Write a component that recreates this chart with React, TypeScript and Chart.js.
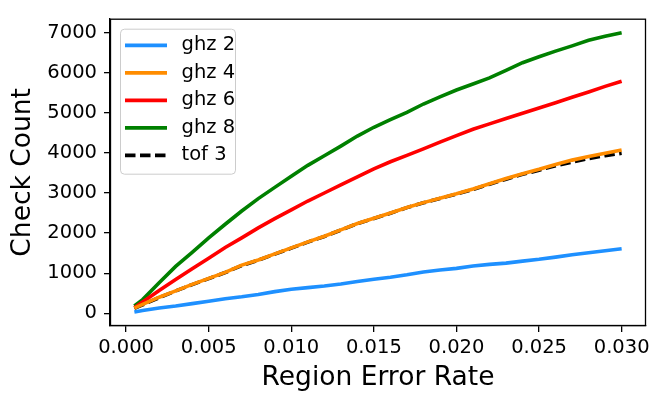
import { useEffect, useRef } from "react";
import { Chart, registerables } from "chart.js";

Chart.register(...registerables);

const errorRates = [
  0.0005, 0.001, 0.002, 0.003, 0.004, 0.005, 0.006, 0.007, 0.008, 0.009, 0.01,
  0.011, 0.012, 0.013, 0.014, 0.015, 0.016, 0.017, 0.018, 0.019, 0.02, 0.021,
  0.022, 0.023, 0.024, 0.025, 0.026, 0.027, 0.028, 0.029, 0.03,
];
const ghz2 = [
  30, 70, 130, 180, 240, 300, 360, 410, 470, 540, 600, 640, 680, 730, 790, 850,
  900, 960, 1030, 1080, 1120, 1180, 1220, 1250, 1300, 1345, 1400, 1460, 1510,
  1560, 1609,
];
const ghz4 = [
  130, 220, 400, 560, 720, 870, 1020, 1200, 1330, 1480, 1630, 1780, 1920, 2080,
  2240, 2370, 2500, 2640, 2760, 2870, 2980, 3100, 3230, 3360, 3480, 3590, 3710,
  3820, 3910, 3990, 4070,
];
const ghz6 = [
  140, 280, 570, 840, 1110, 1370, 1640, 1880, 2130, 2360, 2580, 2800, 3000,
  3200, 3400, 3600, 3780, 3940, 4100, 4270, 4430, 4590, 4725, 4860, 4990, 5120,
  5250, 5390, 5520, 5660, 5789,
];
const ghz8 = [
  180, 340, 760, 1170, 1520, 1880, 2220, 2550, 2860, 3140, 3420, 3690, 3930,
  4170, 4420, 4640, 4830, 5010, 5220, 5400, 5570, 5720, 5870, 6060, 6250, 6400,
  6540, 6670, 6810, 6910, 7000,
];
const tof3 = [
  120, 210, 390, 555, 715, 865, 1015, 1190, 1325, 1475, 1625, 1775, 1915, 2075,
  2235, 2365, 2495, 2635, 2755, 2865, 2975, 3090, 3220, 3345, 3465, 3570, 3680,
  3770, 3860, 3930, 3990,
];
const seriesLabels = ["ghz 2", "ghz 4", "ghz 6", "ghz 8", "tof 3"];
const seriesColors = ["#1e90ff", "#ff8c00", "#ff0000", "#008000", "#000000"];
const xTickValues = [0, 0.005, 0.01, 0.015, 0.02, 0.025, 0.03];
const xTickLabels = ["0.000", "0.005", "0.010", "0.015", "0.020", "0.025", "0.030"];
const yTickValues = [0, 1000, 2000, 3000, 4000, 5000, 6000, 7000];
const yTickLabels = ["0", "1000", "2000", "3000", "4000", "5000", "6000", "7000"];

const FONT = "'DejaVu Sans', sans-serif";

const framePlugin = {
  id: "frameAndLegend",
  afterDraw(chart: any) {
    const ctx = chart.ctx as CanvasRenderingContext2D;
    const a = chart.chartArea;
    ctx.save();
    ctx.strokeStyle = "#000";
    ctx.lineWidth = 1.3;
    ctx.strokeRect(a.left + 0.5, a.top + 0.5, a.right - a.left - 1, a.bottom - a.top - 1);

    // legend
    const bx = a.left + 10.5;
    const by = a.top + 10.5;
    const bw = 115;
    const bh = 145;
    ctx.beginPath();
    (ctx as any).roundRect(bx, by, bw, bh, 4);
    ctx.fillStyle = "rgba(255,255,255,0.8)";
    ctx.fill();
    ctx.strokeStyle = "#cccccc";
    ctx.lineWidth = 1;
    ctx.stroke();

    chart.data.datasets.forEach((ds: any, i: number) => {
      const cy = a.top + 26.7 + i * 27.5;
      ctx.beginPath();
      ctx.strokeStyle = ds.borderColor;
      ctx.lineWidth = ds.borderWidth;
      ctx.setLineDash(ds.borderDash || []);
      ctx.moveTo(a.left + 15, cy);
      ctx.lineTo(a.left + 57, cy);
      ctx.stroke();
      ctx.setLineDash([]);
      ctx.fillStyle = "#000";
      ctx.font = `19.5px ${FONT}`;
      ctx.textBaseline = "middle";
      ctx.textAlign = "left";
      ctx.fillText(ds.label, a.left + 71.5, cy);
    });
    ctx.restore();
  },
};

export default function App() {
  const canvasRef = useRef<HTMLCanvasElement | null>(null);

  useEffect(() => {
    if (!canvasRef.current) return;
    const all = [ghz2, ghz4, ghz6, ghz8, tof3];
    const chart = new Chart(canvasRef.current, {
      type: "line",
      data: {
        datasets: all.map((vals, i) => ({
          label: seriesLabels[i],
          data: vals.map((v, j) => ({ x: errorRates[j], y: v })),
          borderColor: seriesColors[i],
          backgroundColor: seriesColors[i],
          borderWidth: 3.6,
          borderDash: i === 4 ? [10.5, 4.5] : [],
          pointRadius: 0,
          tension: 0,
          fill: false,
        })),
      },
      options: {
        animation: false,
        responsive: false,
        devicePixelRatio: 1,
        layout: { padding: { top: 6, right: 21, left: 0, bottom: 0 } },
        plugins: {
          legend: { display: false },
          tooltip: { enabled: false },
        },
        scales: {
          x: {
            type: "linear",
            min: -0.000975,
            max: 0.031475,
            afterBuildTicks: (scale: any) => {
              scale.ticks = xTickValues.map((v) => ({ value: v }));
            },
            afterFit: (scale: any) => {
              scale.height = 68;
            },
            ticks: {
              callback: (_v: any, i: number) => xTickLabels[i],
              font: { family: FONT, size: 19.5 },
              color: "#000",
              padding: 4,
              maxRotation: 0,
              autoSkip: false,
            },
            grid: {
              drawOnChartArea: false,
              drawTicks: true,
              tickLength: 6,
              color: "#000",
              lineWidth: 1.3,
            },
            border: { display: true, color: "#000", width: 1.3 },
            title: {
              display: true,
              text: "Region Error Rate",
              font: { family: FONT, size: 26.5 },
              color: "#000",
              padding: { top: 0, bottom: 0 },
            },
          },
          y: {
            type: "linear",
            min: -318,
            max: 7348,
            afterBuildTicks: (scale: any) => {
              scale.ticks = yTickValues.map((v) => ({ value: v }));
            },
            afterFit: (scale: any) => {
              scale.width = 110;
            },
            ticks: {
              callback: (_v: any, i: number) => yTickLabels[i],
              font: { family: FONT, size: 19.5 },
              color: "#000",
              padding: 7,
              autoSkip: false,
            },
            grid: {
              drawOnChartArea: false,
              drawTicks: true,
              tickLength: 6,
              color: "#000",
              lineWidth: 1.3,
            },
            border: { display: true, color: "#000", width: 1.3 },
            title: {
              display: true,
              text: "Check Count",
              font: { family: FONT, size: 26.5 },
              color: "#000",
              padding: { top: 7, bottom: 0 },
            },
          },
        },
      },
      plugins: [framePlugin],
    });
    return () => chart.destroy();
  }, []);

  return (
    <div style={{ position: "fixed", left: 0, top: 0, width: 667, height: 394, background: "#fff" }}>
      <canvas ref={canvasRef} width={667} height={394} style={{ width: 667, height: 394, display: "block" }} />
    </div>
  );
}
